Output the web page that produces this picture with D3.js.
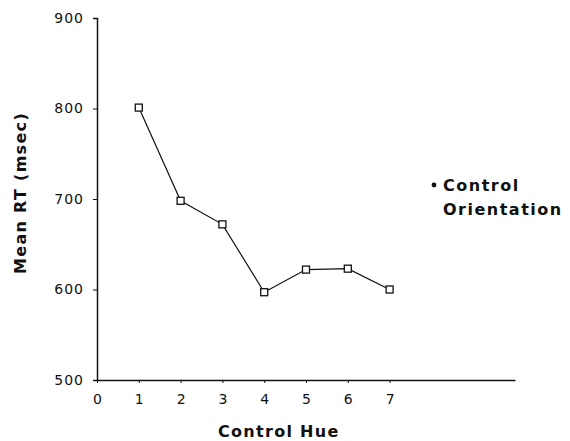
<!DOCTYPE html>
<html>
<head>
<meta charset="utf-8">
<script src="https://cdn.jsdelivr.net/npm/d3@7"></script>
<style>
  body { margin: 0; background: #fff; }
  svg { display: block; }
  text { font-family: "DejaVu Sans", sans-serif; fill: #111; }
  .title { font-weight: bold; font-size: 15px; letter-spacing: 1.3px; }
  .legend { font-size: 16px; letter-spacing: 1.5px; }
</style>
</head>
<body>
<svg id="chart" width="570" height="441"></svg>
<script>
const width = 570;
const height = 441;

// data
const hues = [1, 2, 3, 4, 5, 6, 7];
const meanRT = [801, 698, 672, 597, 622, 623, 600];
const xTicks = [0, 1, 2, 3, 4, 5, 6, 7];
const yTicks = [500, 600, 700, 800, 900];
const seriesName = ["Control", "Orientation"];

const svg = d3.select("#chart");

const x = d3.scaleLinear().domain([0, 10]).range([97, 515]);
const y = d3.scaleLinear().domain([500, 900]).range([380, 18]);

// y axis
const yAxis = svg.append("g")
    .attr("transform", `translate(${x(0)},0)`)
    .call(d3.axisLeft(y).tickValues(yTicks).tickSize(4).tickPadding(9));
yAxis.select(".domain").attr("stroke", "#111").attr("stroke-width", 1.5);
yAxis.selectAll(".tick line").attr("stroke", "#111");
yAxis.selectAll(".tick text")
    .attr("font-family", "DejaVu Sans, sans-serif")
    .attr("font-size", 14)
    .attr("letter-spacing", "1px")
    .attr("fill", "#111");

// x axis
const xAxis = svg.append("g")
    .attr("transform", `translate(0,${y(500)})`)
    .call(d3.axisBottom(x).tickValues(xTicks).tickSize(3).tickPadding(11).tickSizeOuter(0));
xAxis.select(".domain").attr("stroke", "#111").attr("stroke-width", 1.5);
xAxis.selectAll(".tick line").attr("stroke", "#111");
xAxis.selectAll(".tick text")
    .attr("font-family", "DejaVu Sans, sans-serif")
    .attr("font-size", 14)
    .attr("fill", "#111");

// line
const line = d3.line()
    .x((d, i) => x(hues[i]))
    .y(d => y(d));

svg.append("path")
    .datum(meanRT)
    .attr("d", line)
    .attr("fill", "none")
    .attr("stroke", "#111")
    .attr("stroke-width", 1.2);

// square markers
svg.selectAll("rect.pt")
    .data(meanRT)
    .enter()
    .append("rect")
    .attr("class", "pt")
    .attr("x", (d, i) => x(hues[i]) - 3.5)
    .attr("y", d => y(d) - 3.5)
    .attr("width", 7)
    .attr("height", 7)
    .attr("fill", "#fff")
    .attr("stroke", "#111")
    .attr("stroke-width", 1.3);

// axis titles
svg.append("text")
    .attr("class", "title")
    .attr("transform", "translate(26,193) rotate(-90)")
    .attr("text-anchor", "middle")
    .attr("font-size", 16)
    .style("font-size", "16px")
    .text("Mean RT (msec)");

svg.append("text")
    .attr("class", "title")
    .attr("x", 218)
    .attr("y", 437)
    .style("font-size", "16px")
    .text("Control Hue");

// legend
svg.append("circle")
    .attr("cx", 434)
    .attr("cy", 185)
    .attr("r", 2.4)
    .attr("fill", "#111");

svg.selectAll("text.legend")
    .data(seriesName)
    .enter()
    .append("text")
    .attr("class", "title legend")
    .attr("x", 443)
    .attr("y", (d, i) => 191 + i * 24)
    .text(d => d);
</script>
</body>
</html>
